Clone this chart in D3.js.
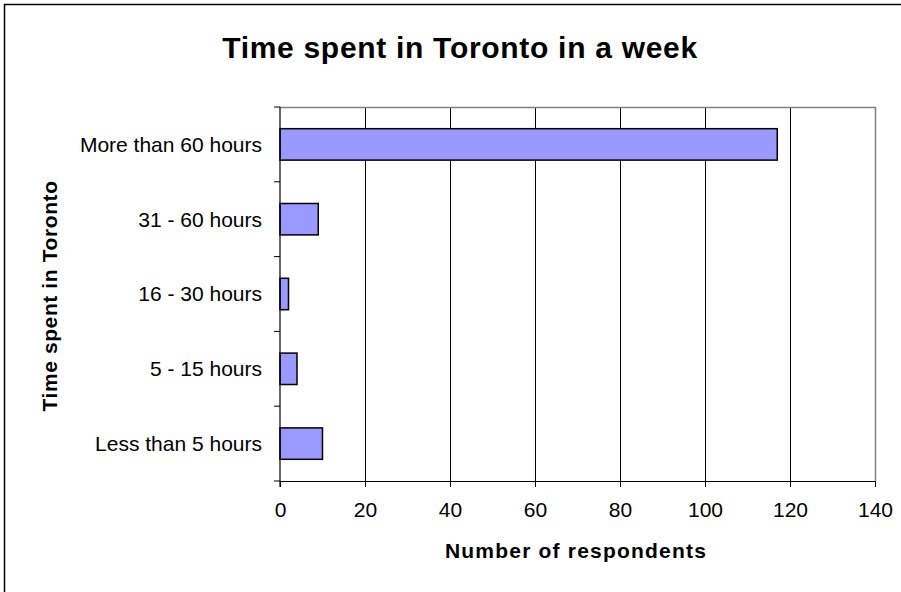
<!DOCTYPE html>
<html><head><meta charset="utf-8">
<script src="https://cdn.jsdelivr.net/npm/d3@7/dist/d3.min.js"></script>
<style>body{margin:0;background:#fff}svg{display:block}</style>
</head><body>
<script>
const categories = ["More than 60 hours","31 - 60 hours","16 - 30 hours","5 - 15 hours","Less than 5 hours"];
const values = [117, 9, 2, 4, 10];
const xTicks = [0,20,40,60,80,100,120,140];
const title = "Time spent in Toronto in a week";
const xTitle = "Number of respondents";
const yTitle = "Time spent in Toronto";

const W = 901, H = 592;
const m = {left:280, right:875, top:107, bottom:481};
const svg = d3.select("body").append("svg").attr("width",W).attr("height",H);
const font = "'Liberation Sans', Arial, sans-serif";

svg.append("rect").attr("x",4.5).attr("y",4.5).attr("width",W+10).attr("height",H+10)
  .attr("fill","#fff").attr("stroke","#000").attr("stroke-width",1.5);

const x = d3.scaleLinear().domain([0,140]).range([m.left,m.right]);
const y = d3.scaleBand().domain(categories).range([m.top,m.bottom]).paddingInner(0.58).paddingOuter(0.29);

// gridlines
svg.append("g").selectAll("line").data(xTicks.filter(d=>d>0 && d<140)).join("line")
  .attr("x1",d=>x(d)+0.5).attr("x2",d=>x(d)+0.5).attr("y1",m.top).attr("y2",m.bottom)
  .attr("stroke","#000").attr("stroke-width",1);
// plot border top/right
svg.append("path").attr("d",`M${m.left},${m.top+0.5}H${m.right+0.5}V${m.bottom}`)
  .attr("fill","none").attr("stroke","#808080").attr("stroke-width",1.5);

// bars
svg.append("g").selectAll("rect").data(values).join("rect")
  .attr("x",x(0)).attr("y",(d,i)=>y(categories[i]))
  .attr("width",d=>x(d)-x(0)).attr("height",y.bandwidth())
  .attr("fill","#9999FF").attr("stroke","#000").attr("stroke-width",1.5);

// x axis
const xa = svg.append("g").attr("transform",`translate(0,${m.bottom})`)
  .call(d3.axisBottom(x).tickValues(xTicks).tickSize(6).tickPadding(15).tickSizeOuter(0));
xa.select(".domain").attr("stroke","#000").attr("stroke-width",1.2);
xa.selectAll(".tick line").attr("stroke","#000");
xa.selectAll("text").attr("font-family",font).attr("font-size",21).attr("fill","#000");

// y axis
const ticksY = d3.range(categories.length+1).map(i=>m.top + i*(m.bottom-m.top)/categories.length);
const ya = svg.append("g");
ya.append("line").attr("x1",m.left).attr("x2",m.left).attr("y1",m.top).attr("y2",m.bottom+6)
  .attr("stroke","#000").attr("stroke-width",1.2);
ya.selectAll("line.t").data(ticksY).join("line").attr("class","t")
  .attr("x1",m.left-6).attr("x2",m.left).attr("y1",d=>d).attr("y2",d=>d).attr("stroke","#000");
ya.selectAll("text").data(categories).join("text")
  .attr("x",m.left-18).attr("y",d=>y(d)+y.bandwidth()/2).attr("dy","0.35em")
  .attr("text-anchor","end").attr("font-family",font).attr("font-size",21).text(d=>d);

svg.append("text").attr("x",460).attr("y",58).attr("text-anchor","middle")
  .attr("font-family",font).attr("font-weight","bold").attr("font-size",30)
  .attr("letter-spacing","0.7px").text(title);
svg.append("text").attr("x",576).attr("y",558).attr("text-anchor","middle")
  .attr("font-family",font).attr("font-weight","bold").attr("font-size",21)
  .attr("letter-spacing","1.2px").text(xTitle);
svg.append("text").attr("transform","translate(57,296) rotate(-90)").attr("text-anchor","middle")
  .attr("font-family",font).attr("font-weight","bold").attr("font-size",21)
  .attr("letter-spacing","0.6px").text(yTitle);
</script>
</body></html>
